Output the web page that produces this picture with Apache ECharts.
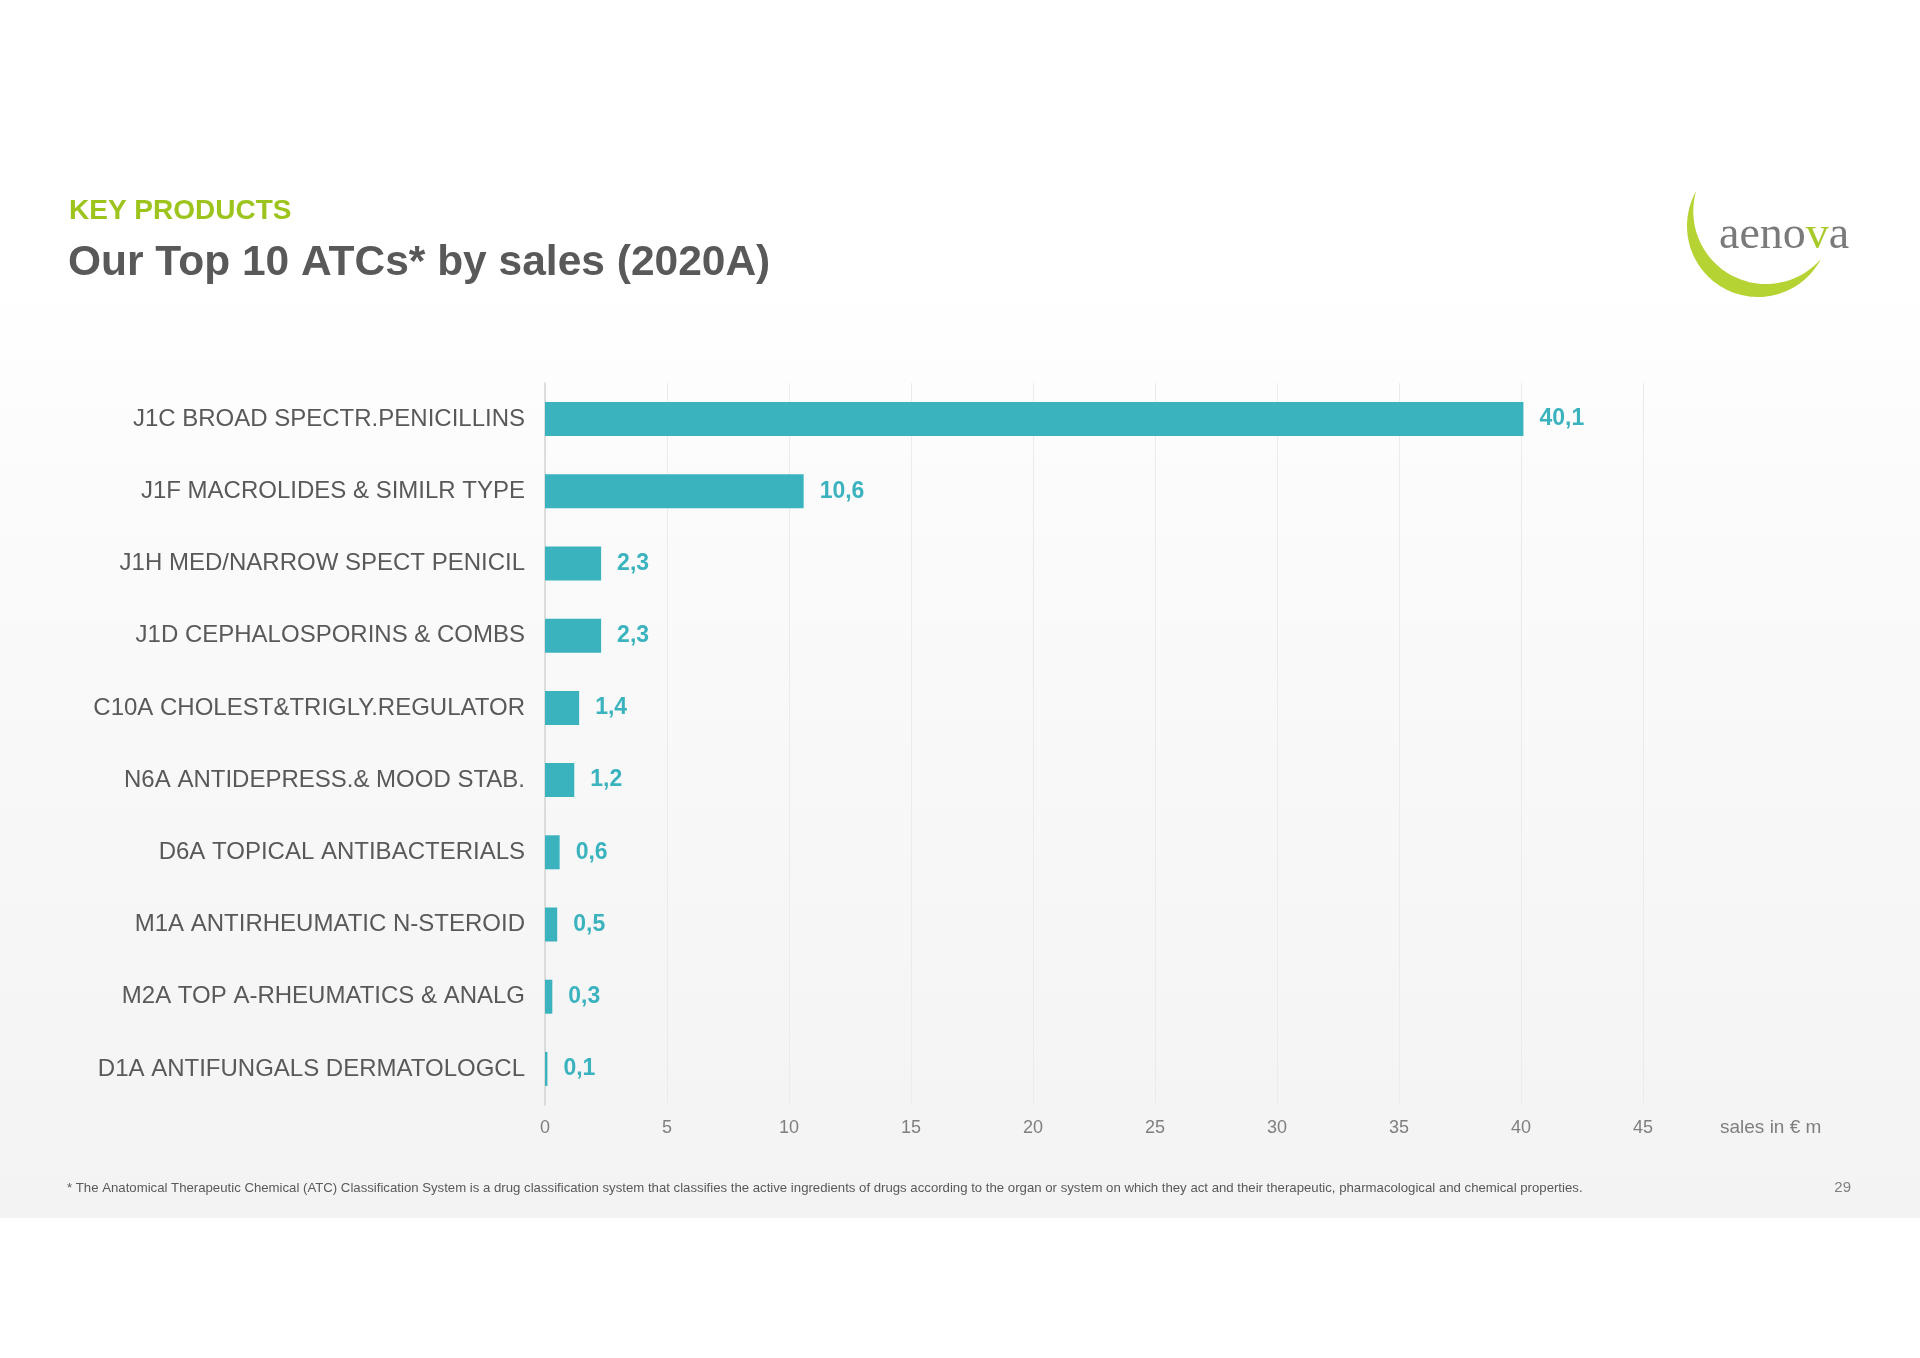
<!DOCTYPE html>
<html>
<head>
<meta charset="utf-8">
<script src="https://cdn.jsdelivr.net/npm/echarts@6/dist/echarts.min.js"></script>
<style>
html,body{margin:0;padding:0;background:#ffffff;}
#chart{width:1920px;height:1358px;}
</style>
</head>
<body>
<div id="chart"></div>
<script>
var categories = [
  'J1C BROAD SPECTR.PENICILLINS',
  'J1F MACROLIDES & SIMILR TYPE',
  'J1H MED/NARROW SPECT PENICIL',
  'J1D CEPHALOSPORINS & COMBS',
  'C10A CHOLEST&TRIGLY.REGULATOR',
  'N6A ANTIDEPRESS.& MOOD STAB.',
  'D6A TOPICAL ANTIBACTERIALS',
  'M1A ANTIRHEUMATIC N-STEROID',
  'M2A TOP A-RHEUMATICS & ANALG',
  'D1A ANTIFUNGALS DERMATOLOGCL'
];
var salesValues = [40.1, 10.6, 2.3, 2.3, 1.4, 1.2, 0.6, 0.5, 0.3, 0.1];
var axisMin = 0;
var axisMax = 45;
var axisStep = 5;
var kicker = 'KEY PRODUCTS';
var titleText = 'Our Top 10 ATCs* by sales (2020A)';
var axisName = 'sales in \u20ac m';
var footnote = '* The Anatomical Therapeutic Chemical (ATC) Classification System is a drug classification system that classifies the active ingredients of drugs according to the organ or system on which they act and their therapeutic, pharmacological and chemical properties.';
var pageNumber = '29';

var FONT = '"Liberation Sans", Arial, sans-serif';
var SERIF = '"Liberation Serif", "Times New Roman", serif';
var TEAL = '#3bb3bf';

// logo crescent outline (decoration)
function arcPts(cx, cy, r, a0, a1, n) {
  var pts = [];
  for (var i = 0; i <= n; i++) {
    var a = (a0 + (a1 - a0) * i / n) * Math.PI / 180;
    pts.push([cx + r * Math.cos(a), cy + r * Math.sin(a)]);
  }
  return pts;
}
var crescent = arcPts(1758, 226, 71, 209.5, 27.7, 80).concat(arcPts(1766, 211.3, 72.7, 41.0, 196.1, 80));

var chart = echarts.init(document.getElementById('chart'), null, {renderer: 'canvas'});

chart.setOption({
  animation: false,
  textStyle: {fontFamily: FONT},
  title: [
    {text: kicker, left: 69, top: 197, padding: 0,
     textStyle: {fontFamily: FONT, fontSize: 28, fontWeight: 'bold', color: '#9dc41c'}},
    {text: titleText, left: 68, top: 242, padding: 0,
     textStyle: {fontFamily: FONT, fontSize: 42.5, fontWeight: 'bold', color: '#595959'}}
  ],
  graphic: [
    {type: 'rect', z: -10, silent: true,
     shape: {x: 0, y: 0, width: 1920, height: 1218},
     style: {fill: {type: 'linear', x: 0, y: 0, x2: 0, y2: 1, colorStops: [
       {offset: 0, color: '#ffffff'},
       {offset: 0.23, color: '#ffffff'},
       {offset: 0.4, color: '#fbfbfb'},
       {offset: 1, color: '#f3f3f3'}
     ]}}},
    {type: 'polygon', z: 5, silent: true,
     shape: {points: crescent},
     style: {fill: '#b6d334'}},
    {type: 'text', z: 6, silent: true, x: 1719, y: 236,
     style: {text: '{g|aeno}{v|v}{g|a}', verticalAlign: 'middle',
       rich: {
         g: {font: '46px ' + SERIF, fill: '#7a7a7a'},
         v: {font: '46px ' + SERIF, fill: '#a8c92a'}
       }}},
    {type: 'text', z: 6, silent: true, x: 67, y: 1188,
     style: {text: footnote, font: '13.2px ' + FONT, fill: '#595959', verticalAlign: 'middle'}},
    {type: 'text', z: 6, silent: true, x: 1851, y: 1188,
     style: {text: pageNumber, font: '15px ' + FONT, fill: '#7f7f7f', align: 'right', verticalAlign: 'middle'}}
  ],
  grid: {left: 545, top: 383, width: 1098, height: 722, containLabel: false},
  xAxis: {
    type: 'value', min: axisMin, max: axisMax, interval: axisStep,
    axisLine: {show: false}, axisTick: {show: false},
    splitLine: {show: true, lineStyle: {color: '#ebebeb', width: 1}},
    axisLabel: {color: '#7f7f7f', fontSize: 18, margin: 14, fontFamily: FONT},
    name: axisName, nameLocation: 'end', nameGap: 77,
    nameTextStyle: {color: '#7f7f7f', fontSize: 19, fontFamily: FONT, align: 'left', verticalAlign: 'top', padding: [13, 0, 0, 0]}
  },
  yAxis: {
    type: 'category', data: categories, inverse: true,
    axisLine: {show: true, lineStyle: {color: '#d4d4d4', width: 1.5}},
    axisTick: {show: false},
    splitLine: {show: false},
    axisLabel: {color: '#595959', fontSize: 24, margin: 20, fontFamily: FONT}
  },
  series: [{
    type: 'bar', data: salesValues, barWidth: 34,
    itemStyle: {color: TEAL},
    label: {show: true, position: 'right', distance: 16, color: TEAL, fontSize: 23, fontWeight: 'bold', fontFamily: FONT,
      formatter: function (p) { return String(p.value).replace('.', ','); }}
  }]
});
</script>
</body>
</html>
